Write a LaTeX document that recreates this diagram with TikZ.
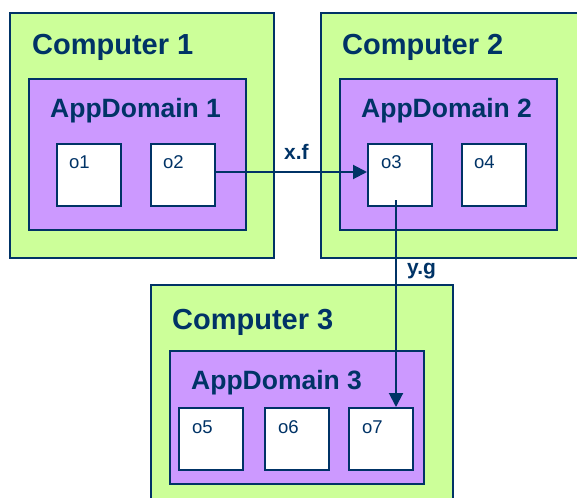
\documentclass[tikz,border=0pt]{standalone}
\usepackage{fontspec}
\setmainfont{Liberation Sans}
\usetikzlibrary{arrows.meta}
\definecolor{navy}{HTML}{003366}
\definecolor{compgreen}{HTML}{CCFF99}
\definecolor{adpurple}{HTML}{CC99FF}
\tikzset{
  compbox/.style={draw=navy, line width=2pt, fill=compgreen, anchor=north west, inner sep=0pt},
  adbox/.style={draw=navy, line width=2pt, fill=adpurple, anchor=north west, inner sep=0pt},
  objbox/.style={draw=navy, line width=2pt, fill=white, anchor=north west, inner sep=0pt, minimum width=64pt, minimum height=62pt},
  comptext/.style={text=navy, font=\bfseries\fontsize{29}{31}\selectfont, anchor=base west, inner sep=0pt},
  adtext/.style={text=navy, font=\bfseries\fontsize{26.5}{28}\selectfont, anchor=base west, inner sep=0pt},
  objtext/.style={text=navy, font=\fontsize{18.5}{20}\selectfont, anchor=base west, inner sep=0pt},
  calltext/.style={text=navy, font=\bfseries\fontsize{21}{23}\selectfont, anchor=base west, inner sep=0pt},
  callline/.style={draw=navy, line width=2pt, -{Triangle[length=14pt,width=14pt]}}
}
\begin{document}
\begin{tikzpicture}[x=1pt,y=-1pt]
\useasboundingbox (0,0) rectangle (577,497);
\clip (0,0) rectangle (577,497);
\fill[white] (0,0) rectangle (577,497);
% Computer 1
\node[compbox, minimum width=264pt, minimum height=245pt] (c1) at (9,12) {};
\node[comptext] (c1t) at (32,55) {Computer 1};
\node[adbox, minimum width=217pt, minimum height=151pt] (a1) at (28,78) {};
\node[adtext] (a1t) at (50,118) {AppDomain 1};
\node[objbox] (o1) at (56,143) {};
\node[objtext] (o1t) at (69,168) {o1};
\node[objbox] (o2) at (150,143) {};
\node[objtext] (o2t) at (163,168) {o2};
% Computer 2
\node[compbox, minimum width=280pt, minimum height=245pt] (c2) at (320,12) {};
\node[comptext] (c2t) at (342,55) {Computer 2};
\node[adbox, minimum width=217pt, minimum height=151pt] (a2) at (339,78) {};
\node[adtext] (a2t) at (361,118) {AppDomain 2};
\node[objbox] (o3) at (367,143) {};
\node[objtext] (o3t) at (381,168) {o3};
\node[objbox] (o4) at (461,143) {};
\node[objtext] (o4t) at (474,168) {o4};
% Computer 3
\node[compbox, minimum width=302pt, minimum height=240pt] (c3) at (150,284) {};
\node[comptext] (c3t) at (172,329) {Computer 3};
\node[adbox, minimum width=254pt, minimum height=133pt] (a3) at (169,350) {};
\node[adtext] (a3t) at (191,389) {AppDomain 3};
\node[objbox] (o5) at (178,407) {};
\node[objtext] (o5t) at (192,433) {o5};
\node[objbox] (o6) at (264,407) {};
\node[objtext] (o6t) at (278,433) {o6};
\node[objbox] (o7) at (348,407) {};
\node[objtext] (o7t) at (362,433) {o7};
% calls
\coordinate (o2out) at (o2.east |- 0,172);
\coordinate (o3in) at (o3.west |- 0,172);
\draw[callline] (o2out) -- (o3in);
\node[calltext] (xf) at (284,159) {x.f};
\coordinate (o3src) at (396,200);
\coordinate (o7in) at (396,407);
\draw[callline] (o3src) -- (o7in);
\node[calltext] (yg) at (407,274) {y.g};
\end{tikzpicture}
\end{document}
